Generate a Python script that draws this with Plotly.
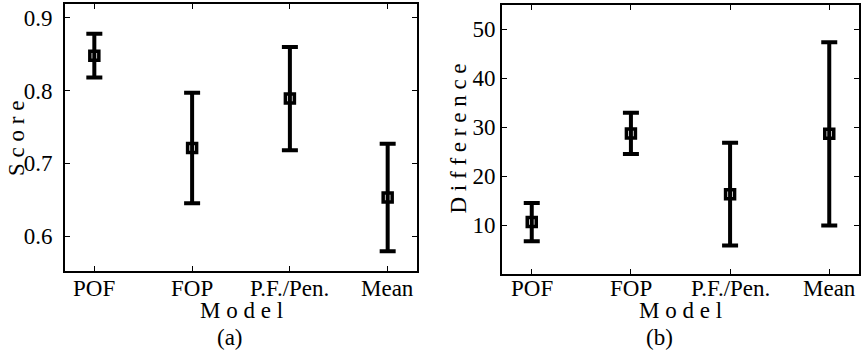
import plotly.graph_objects as go

# Model categories plotted at integer positions 1..4
models = ["POF", "FOP", "P.F./Pen.", "Mean"]
positions = [1, 2, 3, 4]

# (a) score: mean and half-width of the interval
score_mean = [0.848, 0.721, 0.789, 0.653]
score_err = [0.030, 0.076, 0.071, 0.074]

# (b) difference: mean and half-width of the interval
diff_mean = [10.6, 28.7, 16.3, 28.6]
diff_err = [3.9, 4.2, 10.5, 18.7]

score_ticks = [0.6, 0.7, 0.8, 0.9]
score_tick_text = ["0.6", "0.7", "0.8", "0.9"]
diff_ticks = [10, 20, 30, 40, 50]
diff_tick_text = ["10", "20", "30", "40", "50"]

FONT = "Liberation Serif"
FS = 23
W, H = 862, 354


def err_trace(y, e, xa, ya):
    return go.Scatter(
        x=positions, y=y, xaxis=xa, yaxis=ya, mode="markers",
        marker=dict(symbol="square-open", size=9, color="black",
                    line=dict(width=3.5, color="black")),
        error_y=dict(type="data", array=e, visible=True, color="black",
                     thickness=4, width=8),
        showlegend=False, hoverinfo="skip",
    )


fig = go.Figure()
fig.add_trace(err_trace(score_mean, score_err, "x", "y"))
fig.add_trace(err_trace(diff_mean, diff_err, "x2", "y2"))

axis_common = dict(
    showline=True, linecolor="black", linewidth=2, mirror="ticks",
    ticks="inside", ticklen=5, tickwidth=1, tickcolor="black",
    showgrid=False, zeroline=False,
    tickfont=dict(family=FONT, size=FS, color="black"),
)

fig.update_layout(
    width=W, height=H,
    margin=dict(l=0, r=0, t=0, b=0),
    paper_bgcolor="white", plot_bgcolor="white",
    xaxis=dict(domain=[65 / W, 417 / W], range=[0.7, 4.3],
               tickvals=positions, showticklabels=False, anchor="y",
               **axis_common),
    yaxis=dict(domain=[1 - 271 / H, 1 - 4 / H], range=[0.552, 0.919],
               tickvals=score_ticks, ticktext=score_tick_text, anchor="x",
               ticklabelstandoff=6, **axis_common),
    xaxis2=dict(domain=[502 / W, 859 / W], range=[0.7, 4.3],
                tickvals=positions, showticklabels=False, anchor="y2",
                **axis_common),
    yaxis2=dict(domain=[1 - 274 / H, 1 - 5 / H], range=[0, 54.9],
                tickvals=diff_ticks, ticktext=diff_tick_text, anchor="x2",
                ticklabelstandoff=0, **axis_common),
)

text_font = dict(family=FONT, size=FS, color="black")

# Category labels under each panel, placed at the category positions
for xref in ("x", "x2"):
    for pos, name in zip(positions, models):
        fig.add_annotation(
            text=name, x=pos, y=1 - 288 / H, xref=xref, yref="paper",
            xanchor="center", yanchor="middle", showarrow=False,
            font=text_font,
        )

labels = [
    dict(text="M o d e l", x=241 / W, y=1 - 310 / H, textangle=0),
    dict(text="M o d e l", x=680 / W, y=1 - 310 / H, textangle=0),
    dict(text="S c o r e", x=16 / W, y=1 - 139 / H, textangle=-90),
    dict(text="D i f f e r e n c e", x=458 / W, y=1 - 138.5 / H, textangle=-90),
    dict(text="(a)", x=230 / W, y=1 - 337.5 / H, textangle=0),
    dict(text="(b)", x=659 / W, y=1 - 337.5 / H, textangle=0),
]
for lab in labels:
    fig.add_annotation(
        text=lab["text"], x=lab["x"], y=lab["y"], xref="paper", yref="paper",
        xanchor="center", yanchor="middle", showarrow=False,
        textangle=lab["textangle"], font=text_font,
    )

fig.write_html("out.html")
